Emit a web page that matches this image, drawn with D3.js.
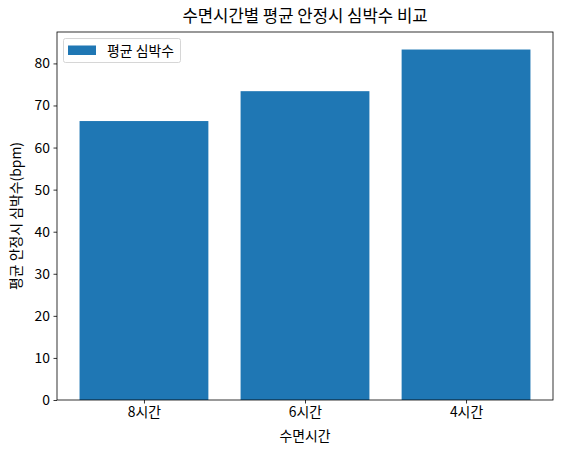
<!DOCTYPE html>
<html>
<head>
<meta charset="utf-8">
<script src="https://cdn.jsdelivr.net/npm/d3@7"></script>
<style>
  body { margin: 0; background: #fff; }
  text { font-family: "Noto Sans CJK KR", "DejaVu Sans", sans-serif; fill: #000; }
</style>
</head>
<body>
<svg id="chart"></svg>
<script>
// data
const categories = ['8시간', '6시간', '4시간'];
const heartRates = [66.3, 73.4, 83.3];
const yTicks = [0, 10, 20, 30, 40, 50, 60, 70, 80];

const width = 561, height = 454;
const margin = { top: 32, right: 8, bottom: 54, left: 57 };

const svg = d3.select('#chart')
  .attr('width', width)
  .attr('height', height);

const x = d3.scaleLinear()
  .domain([-0.54, 2.54])
  .range([margin.left, width - margin.right]);

const y = d3.scaleLinear()
  .domain([0, d3.max(heartRates) * 1.05])
  .range([height - margin.bottom, margin.top]);

// bars
svg.append('g')
  .selectAll('rect')
  .data(heartRates)
  .enter().append('rect')
  .attr('x', (d, i) => x(i - 0.4))
  .attr('width', x(0.4) - x(-0.4))
  .attr('y', d => y(d))
  .attr('height', d => y(0) - y(d))
  .attr('fill', '#1f77b4');

// axes
const xAxis = svg.append('g')
  .attr('transform', `translate(0,${height - margin.bottom})`)
  .call(d3.axisBottom(x).tickValues([0, 1, 2]).tickFormat(i => categories[i]).tickSizeOuter(0).tickSize(3.5).tickPadding(3.5));

const yAxis = svg.append('g')
  .attr('transform', `translate(${margin.left},0)`)
  .call(d3.axisLeft(y).tickValues(yTicks).tickSizeOuter(0).tickSize(3.5).tickPadding(3.5));

[xAxis, yAxis].forEach(a => {
  a.selectAll('text').style('font-size', '13.9px').attr('fill', '#000');
  a.select('.domain').remove();
  a.selectAll('.tick line').attr('stroke', '#000').attr('stroke-width', 0.8);
});

// frame
svg.append('rect')
  .attr('x', margin.left)
  .attr('y', margin.top)
  .attr('width', width - margin.left - margin.right)
  .attr('height', height - margin.top - margin.bottom)
  .attr('fill', 'none')
  .attr('stroke', '#000')
  .attr('stroke-width', 0.8);

// labels
svg.append('text')
  .attr('x', (margin.left + width - margin.right) / 2)
  .attr('y', 22)
  .attr('text-anchor', 'middle')
  .style('font-size', '16.7px')
  .text('수면시간별 평균 안정시 심박수 비교');

svg.append('text')
  .attr('x', (margin.left + width - margin.right) / 2)
  .attr('y', 441)
  .attr('text-anchor', 'middle')
  .style('font-size', '13.9px')
  .text('수면시간');

svg.append('text')
  .attr('transform', `translate(21,${(margin.top + height - margin.bottom) / 2}) rotate(-90)`)
  .attr('text-anchor', 'middle')
  .style('font-size', '13.9px')
  .text('평균 안정시 심박수(bpm)');

// legend
const legend = svg.append('g');
legend.append('rect')
  .attr('x', 63.5).attr('y', 38.5)
  .attr('width', 117).attr('height', 24)
  .attr('rx', 2)
  .attr('fill', '#fff').attr('fill-opacity', 0.8)
  .attr('stroke', '#ccc').attr('stroke-width', 0.8);
legend.append('rect')
  .attr('x', 68).attr('y', 45.5)
  .attr('width', 28).attr('height', 9.5)
  .attr('fill', '#1f77b4');
legend.append('text')
  .attr('x', 107).attr('y', 55.5)
  .style('font-size', '13.9px')
  .text('평균 심박수');
</script>
</body>
</html>
